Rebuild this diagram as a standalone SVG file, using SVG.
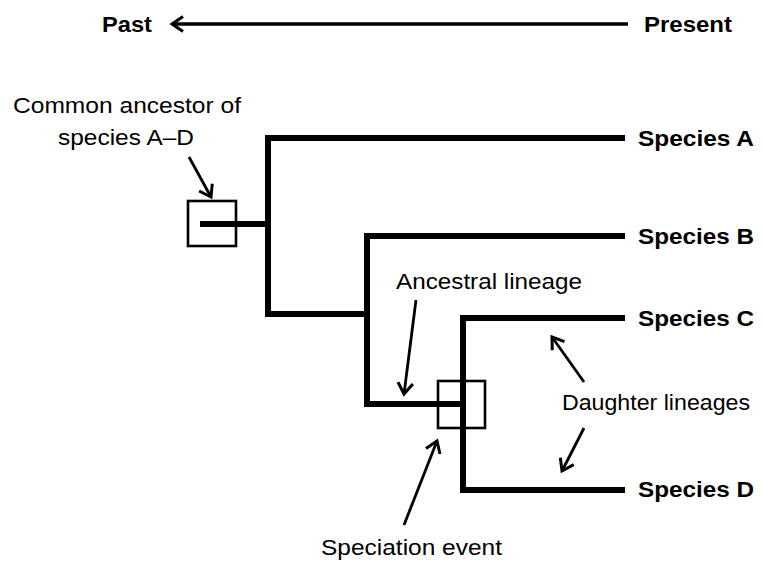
<svg xmlns="http://www.w3.org/2000/svg" width="762" height="562" viewBox="0 0 762 562">
<style>
.t{font-family:"Liberation Sans",Arial,sans-serif;font-size:22px;fill:#000}
.b{font-weight:bold}
.br{fill:none;stroke:#000;stroke-width:6;stroke-linecap:square;stroke-linejoin:miter}
.box{fill:none;stroke:#000;stroke-width:2.6}
.ar{fill:none;stroke:#000;stroke-width:2.8;marker-end:url(#ah)}
</style>
<defs>
<marker id="ah" markerUnits="userSpaceOnUse" viewBox="-16 -10 20 20" refX="0" refY="0" markerWidth="20" markerHeight="20" orient="auto">
<path d="M-11,-7.5 L0,0 L-11,7.5" fill="none" stroke="#000" stroke-width="3" stroke-linejoin="miter"/>
</marker>
</defs>
<rect width="762" height="562" fill="#fff"/>
<g id="timeline">
<text class="t b" x="102" y="32" textLength="50" lengthAdjust="spacingAndGlyphs">Past</text>
<text class="t b" x="644" y="32" textLength="88" lengthAdjust="spacingAndGlyphs">Present</text>
<line class="ar" x1="628" y1="24" x2="172" y2="24" style="stroke-width:3.4"/>
</g>
<g id="connectors">
<path class="br" d="M203,224 H268"/>
<path class="br" d="M622,138 H268 V314 H367"/>
<path class="br" d="M622,236 H367 V404 H462"/>
<path class="br" d="M622,318 H463 V490 H622"/>
</g>
<g id="root-node">
<rect class="box" x="188" y="201" width="48" height="45"/>
</g>
<g id="speciation-node">
<rect class="box" x="438" y="381" width="47" height="47"/>
</g>
<g id="species-a"><text class="t b" x="638" y="146" textLength="116" lengthAdjust="spacingAndGlyphs">Species A</text></g>
<g id="species-b"><text class="t b" x="638" y="244" textLength="116" lengthAdjust="spacingAndGlyphs">Species B</text></g>
<g id="species-c"><text class="t b" x="638" y="326" textLength="116" lengthAdjust="spacingAndGlyphs">Species C</text></g>
<g id="species-d"><text class="t b" x="638" y="497" textLength="116" lengthAdjust="spacingAndGlyphs">Species D</text></g>
<g id="label-ancestor">
<text class="t" x="13" y="113" textLength="228" lengthAdjust="spacingAndGlyphs">Common ancestor of</text>
<text class="t" x="58" y="145" textLength="136" lengthAdjust="spacingAndGlyphs">species A–D</text>
<line class="ar" x1="189" y1="157" x2="211" y2="197"/>
</g>
<g id="label-ancestral">
<text class="t" x="396" y="289" textLength="186" lengthAdjust="spacingAndGlyphs">Ancestral lineage</text>
<line class="ar" x1="416" y1="300" x2="404" y2="394"/>
</g>
<g id="label-daughter">
<text class="t" x="562" y="410" textLength="188" lengthAdjust="spacingAndGlyphs">Daughter lineages</text>
<line class="ar" x1="584" y1="382" x2="552" y2="337"/>
<line class="ar" x1="584" y1="428" x2="562" y2="471"/>
</g>
<g id="label-speciation">
<text class="t" x="321" y="555" textLength="181" lengthAdjust="spacingAndGlyphs">Speciation event</text>
<line class="ar" x1="404" y1="525" x2="437" y2="441"/>
</g>
</svg>
